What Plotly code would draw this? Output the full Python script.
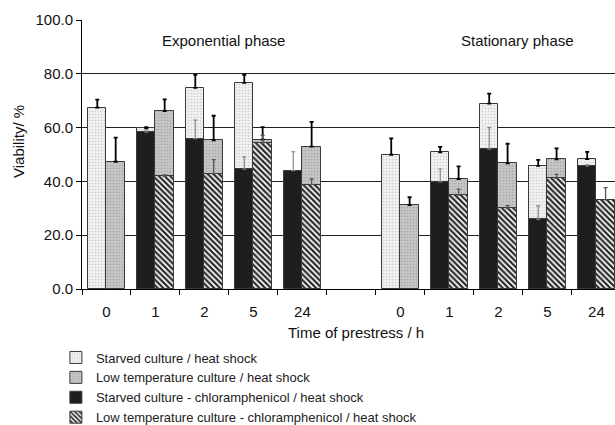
import plotly.graph_objects as go

# ---- data ----
time_labels = ["0", "1", "2", "5", "24"]

# Exponential phase
exp_starved_hs = [67.4, 59.7, 74.8, 76.6, None]
exp_starved_hs_err = [3.0, 0.5, 4.8, 3.0, None]
exp_lowtemp_hs = [47.3, 66.1, 55.3, 55.5, 52.9]
exp_lowtemp_hs_err = [9.0, 4.4, 9.1, 4.7, 9.2]
exp_starved_cam = [None, 58.3, 55.9, 44.5, 44.0]
exp_starved_cam_err = [None, 0.8, 6.9, 4.6, 7.0]
exp_lowtemp_cam = [None, 41.9, 42.9, 54.3, 38.8]
exp_lowtemp_cam_err = [None, 0.5, 5.2, 2.8, 2.1]

# Stationary phase
stat_starved_hs = [49.9, 50.8, 68.9, 45.8, 48.3]
stat_starved_hs_err = [6.1, 2.0, 3.7, 2.2, 2.7]
stat_lowtemp_hs = [31.2, 40.9, 46.7, 48.2, None]
stat_lowtemp_hs_err = [2.9, 4.7, 7.3, 4.1, None]
stat_starved_cam = [None, 39.8, 52.0, 25.9, 45.7]
stat_starved_cam_err = [None, 4.8, 8.0, 5.0, 0.5]
stat_lowtemp_cam = [None, 34.9, 30.1, 41.1, 33.1]
stat_lowtemp_cam_err = [None, 2.2, 0.9, 1.5, 4.6]

series_names = [
    "Starved culture / heat shock",
    "Low temperature culture / heat shock",
    "Starved culture - chloramphenicol / heat shock",
    "Low temperature culture - chloramphenicol / heat shock",
]

# category positions: exponential 0..4, gap at 5, stationary 6..10
exp_pos = [0, 1, 2, 3, 4]
stat_pos = [6, 7, 8, 9, 10]
x_pos = exp_pos + stat_pos
tick_text = time_labels + time_labels

def join(a, b):
    return list(a) + list(b)

FONT = "Liberation Sans, Arial, sans-serif"
BW = 0.375

styles = [
    dict(pattern=dict(shape=".", fgcolor="#cfcfcf", bgcolor="#f2f2f2", size=3, solidity=0.25), off=-BW,
         ecol="#000000", ew=1.8),
    dict(pattern=dict(shape=".", fgcolor="#a8a8a8", bgcolor="#c6c6c6", size=3, solidity=0.25), off=0,
         ecol="#000000", ew=1.8),
    dict(pattern=dict(shape="", fgcolor="#1e1e1e", bgcolor="#1e1e1e"), off=-BW, ecol="#808080", ew=1.1),
    dict(pattern=dict(shape="\\", fgcolor="#2a2a2a", bgcolor="#ffffff", size=4, solidity=0.55), off=0,
         ecol="#555555", ew=1.3),
]
vals = [
    (join(exp_starved_hs, stat_starved_hs), join(exp_starved_hs_err, stat_starved_hs_err)),
    (join(exp_lowtemp_hs, stat_lowtemp_hs), join(exp_lowtemp_hs_err, stat_lowtemp_hs_err)),
    (join(exp_starved_cam, stat_starved_cam), join(exp_starved_cam_err, stat_starved_cam_err)),
    (join(exp_lowtemp_cam, stat_lowtemp_cam), join(exp_lowtemp_cam_err, stat_lowtemp_cam_err)),
]

fig = go.Figure()
for name, st, (y, e) in zip(series_names, styles, vals):
    pat = st["pattern"]
    marker = dict(color=pat["bgcolor"], line=dict(color="#3a3a3a", width=1))
    if pat["shape"]:
        marker["pattern"] = dict(shape=pat["shape"], fgcolor=pat["fgcolor"], bgcolor=pat["bgcolor"],
                                 size=pat["size"], solidity=pat["solidity"], fillmode="replace")
    fig.add_trace(go.Bar(
        x=x_pos, y=y, name=name, width=BW, offset=st["off"], marker=marker,
        error_y=dict(type="data", array=[v if v is not None else 0 for v in e], symmetric=False,
                     arrayminus=[0] * len(e), color=st["ecol"], thickness=st["ew"], width=2),
        hoverinfo="skip",
    ))

fig.add_annotation(x=2.38, y=92.2, xref="x", yref="y", text="Exponential phase", showarrow=False,
                   xanchor="center", yanchor="middle",
                   font=dict(family=FONT, size=15, color="#111"))
fig.add_annotation(x=8.38, y=92.2, xref="x", yref="y", text="Stationary phase", showarrow=False,
                   xanchor="center", yanchor="middle",
                   font=dict(family=FONT, size=15, color="#111"))
# axis titles placed as annotations to match reference positions
fig.add_annotation(x=(356 - 82) / 533, y=(289 - 332) / 269, xref="paper", yref="paper",
                   text="Time of prestress / h", showarrow=False, xanchor="center", yanchor="middle",
                   font=dict(family=FONT, size=15, color="#111"))
fig.add_annotation(x=(18 - 82) / 533, y=(289 - 142) / 269, xref="paper", yref="paper",
                   text="Viability/ %", showarrow=False, textangle=-90, xanchor="center", yanchor="middle",
                   font=dict(family=FONT, size=15, color="#111"))

fig.update_layout(
    width=615, height=425,
    margin=dict(l=82, r=0, t=20, b=136, autoexpand=False),
    barmode="overlay",
    bargap=0,
    plot_bgcolor="white", paper_bgcolor="white",
    font=dict(family=FONT, size=15, color="#111"),
    legend=dict(orientation="v", x=-0.049, xanchor="left", y=-0.199, yanchor="top",
                font=dict(family=FONT, size=13, color="#222"), traceorder="normal",
                itemwidth=30, tracegroupgap=0, bgcolor="rgba(0,0,0,0)"),
    showlegend=True,
)
fig.update_xaxes(
    range=[-0.5, 10.38], tickvals=[p for p in x_pos], ticktext=tick_text,
    ticks="outside", ticklen=9, tickcolor="rgba(0,0,0,0)",
    showline=True, linecolor="#000", linewidth=1, showgrid=False, zeroline=False,
    minor=dict(tickvals=[i - 0.5 for i in range(12)], ticks="outside", ticklen=5, tickcolor="#000",
               showgrid=False),
    tickfont=dict(family=FONT, size=15, color="#111"),
)
fig.update_yaxes(
    range=[0, 100], tickvals=[0, 20, 40, 60, 80, 100], tickformat=".1f",
    ticks="outside", ticklen=5, tickcolor="#000", showline=True, linecolor="#000", linewidth=1,
    showgrid=True, gridcolor="#222", gridwidth=1, zeroline=False,
    tickfont=dict(family=FONT, size=15, color="#111"),
)

fig.write_html("out.html", config={"displayModeBar": False},
               post_script="document.body.style.margin='0';document.body.style.overflow='hidden';")
